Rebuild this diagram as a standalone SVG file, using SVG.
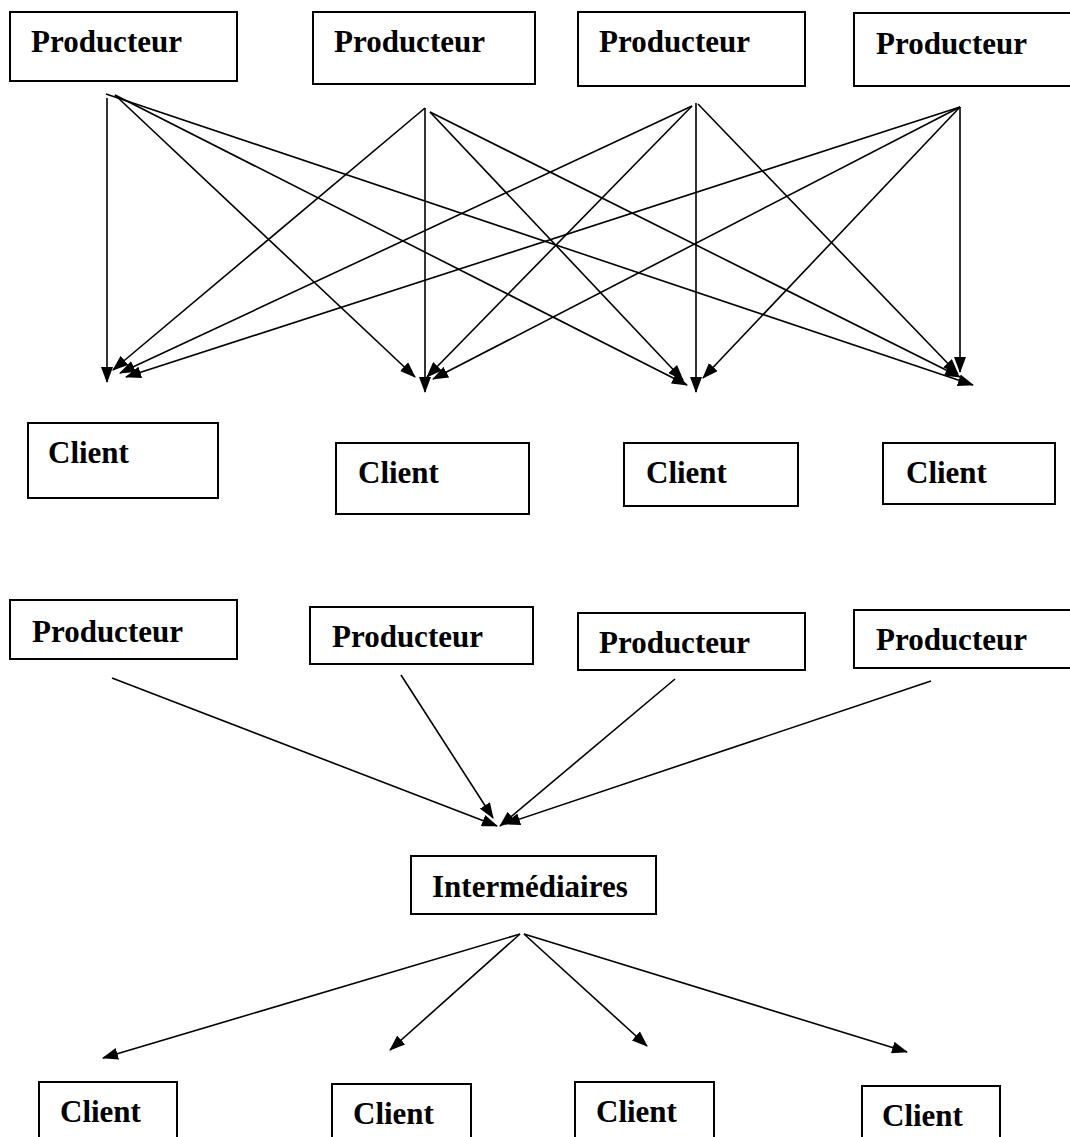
<svg xmlns="http://www.w3.org/2000/svg" width="1070" height="1137" viewBox="0 0 1070 1137">
<style>
.box{fill:#fff;stroke:#000;stroke-width:2}
.lbl{font-family:"Liberation Serif","Times New Roman",serif;font-weight:bold;font-size:31px;fill:#000}
.ln{stroke:#000;stroke-width:1.6;fill:none;marker-end:url(#ah)}
</style>
<defs>
<marker id="ah" viewBox="0 0 16 12" refX="15" refY="6" markerWidth="16" markerHeight="12" orient="auto" markerUnits="userSpaceOnUse"><path d="M0,0 L16,6 L0,12 z" fill="#000"/></marker>
</defs>
<rect width="1070" height="1137" fill="#fff"/>
<g id="p1"><rect class="box" x="10" y="12" width="227" height="69"/><text class="lbl" x="31" y="52">Producteur</text></g>
<g id="p2"><rect class="box" x="313" y="12" width="222" height="72"/><text class="lbl" x="334" y="52">Producteur</text></g>
<g id="p3"><rect class="box" x="578" y="12" width="227" height="74"/><text class="lbl" x="599" y="52">Producteur</text></g>
<g id="p4"><rect class="box" x="854" y="13" width="230" height="73"/><text class="lbl" x="876" y="54">Producteur</text></g>
<g id="c1"><rect class="box" x="28" y="423" width="190" height="75"/><text class="lbl" x="48" y="463">Client</text></g>
<g id="c2"><rect class="box" x="336" y="443" width="193" height="71"/><text class="lbl" x="358" y="483">Client</text></g>
<g id="c3"><rect class="box" x="624" y="443" width="174" height="63"/><text class="lbl" x="646" y="483">Client</text></g>
<g id="c4"><rect class="box" x="883" y="443" width="172" height="61"/><text class="lbl" x="906" y="483">Client</text></g>
<g id="p5"><rect class="box" x="10" y="600" width="227" height="59"/><text class="lbl" x="32" y="642">Producteur</text></g>
<g id="p6"><rect class="box" x="310" y="607" width="223" height="57"/><text class="lbl" x="332" y="647">Producteur</text></g>
<g id="p7"><rect class="box" x="578" y="613" width="227" height="57"/><text class="lbl" x="599" y="653">Producteur</text></g>
<g id="p8"><rect class="box" x="854" y="610" width="230" height="58"/><text class="lbl" x="876" y="650">Producteur</text></g>
<g id="inter"><rect class="box" x="411" y="856" width="245" height="58"/><text class="lbl" x="432" y="897">Intermédiaires</text></g>
<g id="c5"><rect class="box" x="39" y="1082" width="138" height="70"/><text class="lbl" x="60" y="1122">Client</text></g>
<g id="c6"><rect class="box" x="332" y="1084" width="139" height="70"/><text class="lbl" x="353" y="1124">Client</text></g>
<g id="c7"><rect class="box" x="575" y="1082" width="139" height="70"/><text class="lbl" x="596" y="1122">Client</text></g>
<g id="c8"><rect class="box" x="862" y="1086" width="138" height="70"/><text class="lbl" x="882" y="1126">Client</text></g>
<g id="connectors">
<line class="ln" x1="107" y1="98" x2="107" y2="382"/>
<line class="ln" x1="115" y1="95" x2="415" y2="377"/>
<line class="ln" x1="115" y1="95" x2="687" y2="385"/>
<line class="ln" x1="106" y1="94" x2="973" y2="385"/>
<line class="ln" x1="425" y1="108" x2="113" y2="370"/>
<line class="ln" x1="425" y1="108" x2="425" y2="392"/>
<line class="ln" x1="430" y1="112" x2="683" y2="380"/>
<line class="ln" x1="430" y1="112" x2="960" y2="377"/>
<line class="ln" x1="692" y1="106" x2="120" y2="373"/>
<line class="ln" x1="692" y1="106" x2="427" y2="377"/>
<line class="ln" x1="696" y1="103" x2="696" y2="392"/>
<line class="ln" x1="698" y1="104" x2="958" y2="374"/>
<line class="ln" x1="960" y1="107" x2="126" y2="377"/>
<line class="ln" x1="960" y1="107" x2="433" y2="379"/>
<line class="ln" x1="960" y1="107" x2="703" y2="378"/>
<line class="ln" x1="960" y1="107" x2="960" y2="372"/>
<line class="ln" x1="112" y1="678" x2="497" y2="826"/>
<line class="ln" x1="401" y1="675" x2="493" y2="818"/>
<line class="ln" x1="675" y1="679" x2="500" y2="826"/>
<line class="ln" x1="931" y1="681" x2="505" y2="824"/>
<line class="ln" x1="520" y1="934" x2="103" y2="1058"/>
<line class="ln" x1="520" y1="934" x2="390" y2="1050"/>
<line class="ln" x1="524" y1="934" x2="647" y2="1046"/>
<line class="ln" x1="524" y1="934" x2="907" y2="1052"/>
</g>
</svg>
